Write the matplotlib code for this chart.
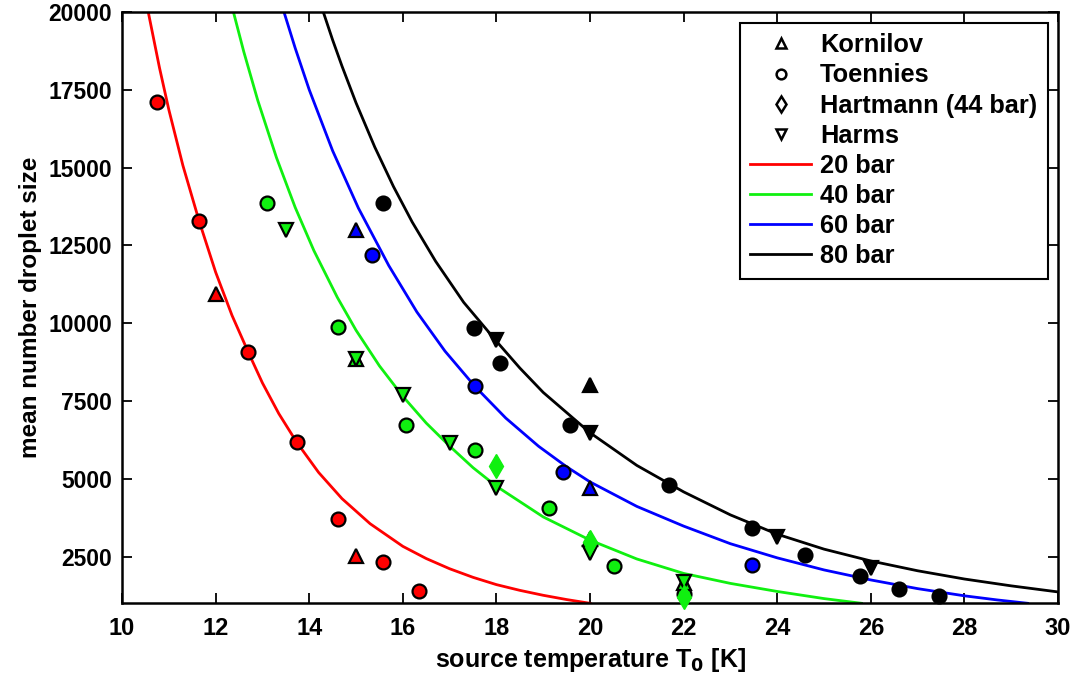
import matplotlib
matplotlib.use("Agg")
import matplotlib.pyplot as plt
from matplotlib.lines import Line2D

# model curves, T0 in K, N = mean droplet size
curve_T_20 = [10.56, 10.8, 11.0, 11.3, 11.65, 12.0, 12.35, 12.7, 13.0, 13.35, 13.73, 14.2, 14.7, 15.3,
              16.0, 16.5, 17.0, 17.5, 18.0, 18.5, 19.0, 19.5, 20.0]
curve_N_20 = [20000, 18210, 16860, 15070, 13270, 11640, 10250, 9060, 8080, 7094, 6180, 5205, 4363, 3558,
              2830, 2438, 2110, 1834, 1600, 1416, 1257, 1120, 1000]

curve_T_40 = [12.38, 12.6, 12.9, 13.3, 13.7, 14.1, 14.6, 15.0, 15.5, 16.0, 16.5, 17.0, 17.5, 18.0,
              19.0, 20.0, 21.0, 22.0, 23.0, 24.0, 25.0, 25.8]
curve_N_40 = [20000, 18730, 17160, 15320, 13720, 12330, 10830, 9773, 8628, 7650, 6791, 6050, 5358, 4760,
              3775, 3030, 2424, 1960, 1639, 1380, 1151, 1000]

curve_T_60 = [13.46, 13.7, 14.0, 14.5, 15.05, 15.7, 16.3, 16.9, 17.54, 18.2, 18.9, 19.5, 20.0,
              21.0, 22.0, 23.0, 24.0, 25.0, 26.0, 27.0, 28.0, 28.7, 29.35]
curve_N_60 = [20000, 18840, 17500, 15540, 13700, 11850, 10360, 9103, 7970, 6951, 6046, 5386, 4900,
              4113, 3480, 2914, 2460, 2072, 1750, 1471, 1240, 1108, 1000]

curve_T_80 = [14.3, 14.5, 14.7, 15.0, 15.4, 15.8, 16.2, 16.7, 17.3, 18.0, 18.5, 19.0, 20.0, 21.0,
              22.0, 23.0, 24.0, 25.0, 26.0, 27.0, 28.0, 29.0, 30.0]
curve_N_80 = [20000, 19100, 18260, 17080, 15660, 14390, 13250, 11990, 10670, 9420, 8559, 7775, 6480, 5430,
              4580, 3840, 3220, 2740, 2360, 2045, 1780, 1560, 1365]

# measurements: temperature, size, stagnation pressure (bar)
kornilov_T = [12.0, 15.0, 15.0, 20.0, 22.0, 15.0, 20.0, 20.0]
kornilov_N = [10950, 2510, 8850, 3050, 1650, 13000, 4700, 8020]
kornilov_P = [20, 20, 40, 40, 40, 60, 60, 80]

toennies_T = [10.75, 11.65, 12.7, 13.73, 14.62, 15.58, 16.35,
              13.09, 14.62, 16.07, 17.54, 19.12, 20.51, 22.0,
              15.34, 17.54, 19.43, 23.45,
              15.58, 17.51, 18.08, 19.57, 21.69, 23.45, 24.59, 25.77, 26.6, 27.46]
toennies_N = [17100, 13270, 9060, 6180, 3720, 2330, 1410,
              13860, 9875, 6740, 5936, 4050, 2190, 1300,
              12200, 7970, 5220, 2243,
              13860, 9843, 8720, 6740, 4812, 3422, 2564, 1890, 1463, 1226]
toennies_P = [20] * 7 + [40] * 7 + [60] * 4 + [80] * 10

hartmann_T = [18.0, 20.0, 22.0]
hartmann_N = [5400, 2980, 1200]

harms_T = [13.5, 15.0, 16.0, 17.0, 18.0, 20.0, 22.0, 18.0, 20.0, 24.0, 26.0]
harms_N = [13000, 8850, 7700, 6150, 4690, 2600, 1700, 9470, 6470, 3130, 2150]
harms_P = [40, 40, 40, 40, 40, 40, 40, 80, 80, 80, 80]

colors = {20: "#ff0000", 40: "#10f010", 60: "#0000ff", 80: "#000000"}

plt.rcParams["font.family"] = ["Liberation Sans", "DejaVu Sans"]
plt.rcParams["font.weight"] = "bold"
plt.rcParams["axes.labelweight"] = "bold"

fig = plt.figure(figsize=(10.78, 6.8), dpi=100)
ax = fig.add_axes([0.1132, 0.1128, 0.8683, 0.8696])

for T, N, p in [(curve_T_20, curve_N_20, 20), (curve_T_40, curve_N_40, 40),
                (curve_T_60, curve_N_60, 60), (curve_T_80, curve_N_80, 80)]:
    ax.plot(T, N, color=colors[p], lw=2, zorder=2)

ms = 10
for T, N, P, mk in [(toennies_T, toennies_N, toennies_P, "o"),
                    (kornilov_T, kornilov_N, kornilov_P, "^"),
                    (harms_T, harms_N, harms_P, "v")]:
    for t, n, p in zip(T, N, P):
        ax.plot(t, n, marker=mk, ms=ms, mfc=colors[p], mec="black", mew=1.6,
                ls="none", clip_on=False, zorder=3)

ax.plot(hartmann_T, hartmann_N, marker="d", ms=12, mfc=colors[40], mec=colors[40],
        ls="none", clip_on=False, zorder=3)

ax.set_xlim(10, 30)
ax.set_ylim(1000, 20000)
ax.set_xticks(range(10, 31, 2))
ax.set_yticks(range(2500, 20001, 2500))
ax.tick_params(direction="in", length=7, width=1.3, top=True, right=True, pad=7)
ax.tick_params(axis="x", labelsize=17, pad=10)
ax.tick_params(axis="y", labelsize=16.5)
for s in ax.spines.values():
    s.set_linewidth(1.8)

ax.set_xlabel("source temperature T$_\\mathbf{0}$ [K]", fontsize=18, labelpad=4)
ax.set_ylabel("mean number droplet size", fontsize=17.5, labelpad=5)

handles = [
    Line2D([], [], marker="^", ls="none", mfc="white", mec="black", mew=1.8, ms=7),
    Line2D([], [], marker="o", ls="none", mfc="white", mec="black", mew=1.8, ms=7),
    Line2D([], [], marker="d", ls="none", mfc="white", mec="black", mew=1.8, ms=8),
    Line2D([], [], marker="v", ls="none", mfc="white", mec="black", mew=1.8, ms=7),
    Line2D([], [], color=colors[20], lw=2),
    Line2D([], [], color=colors[40], lw=2),
    Line2D([], [], color=colors[60], lw=2),
    Line2D([], [], color=colors[80], lw=2),
]
labels = ["Kornilov", "Toennies", "Hartmann (44 bar)", "Harms",
          "20 bar", "40 bar", "60 bar", "80 bar"]
leg = ax.legend(handles, labels, loc="upper right", bbox_to_anchor=(0.9893, 0.9819),
                borderaxespad=0, fontsize=18.3, handlelength=2.4, handletextpad=0.35,
                labelspacing=0.24, borderpad=0.42, fancybox=False, framealpha=1,
                edgecolor="black")
leg.get_frame().set_linewidth(1.5)

fig.savefig("out.png", dpi=100)
